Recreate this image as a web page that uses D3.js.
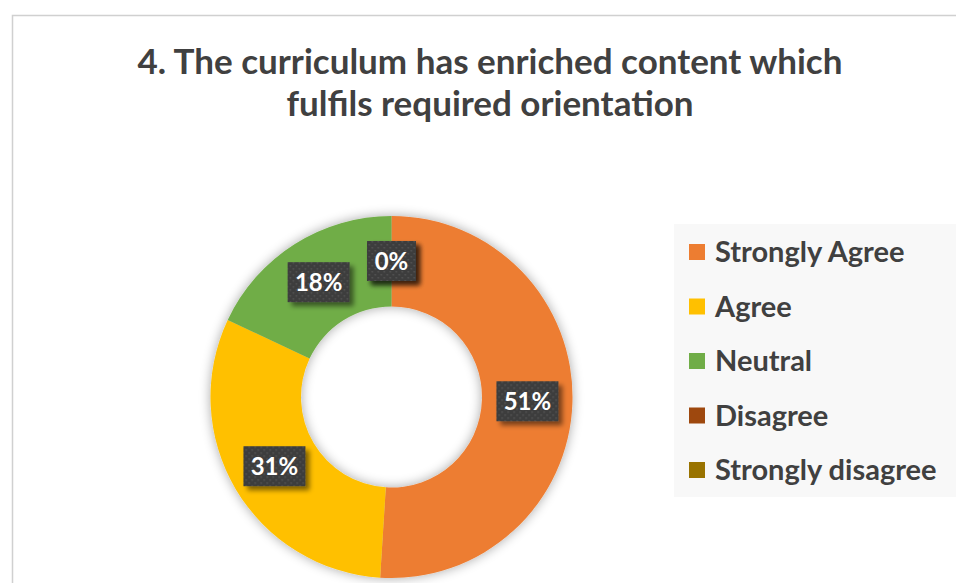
<!DOCTYPE html>
<html>
<head>
<meta charset="utf-8">
<script src="https://cdn.jsdelivr.net/npm/d3@7"></script>
<style>
  html, body { margin: 0; padding: 0; background: #fff; }
  svg { display: block; }
</style>
</head>
<body>
<svg id="chart" width="956" height="583"></svg>
<script>
const categories = ["Strongly Agree", "Agree", "Neutral", "Disagree", "Strongly disagree"];
const values = [51, 31, 18, 0, 0];
const colors = ["#ED7D31", "#FFC000", "#70AD47", "#9E480E", "#997300"];
const titleLines = ["4. The curriculum has enriched content which", "fulfils required orientation"];

const svg = d3.select("#chart");
const W = 956, H = 583;
const font = "'Lato', 'Open Sans', sans-serif";

const defs = svg.append("defs");
const pat = defs.append("pattern").attr("id", "dots").attr("width", 6).attr("height", 6)
  .attr("patternUnits", "userSpaceOnUse");
pat.append("rect").attr("width", 6).attr("height", 6).attr("fill", "#3d3d3d");
pat.append("rect").attr("x", 1).attr("y", 1).attr("width", 1.5).attr("height", 1.5).attr("fill", "#555");
pat.append("rect").attr("x", 4).attr("y", 4).attr("width", 1.5).attr("height", 1.5).attr("fill", "#555");

const glow = defs.append("filter").attr("id", "glow").attr("x", "-20%").attr("y", "-20%").attr("width", "140%").attr("height", "140%");
glow.append("feGaussianBlur").attr("in", "SourceAlpha").attr("stdDeviation", 6).attr("result", "b");
glow.append("feComponentTransfer").attr("in", "b").attr("result", "b2")
  .append("feFuncA").attr("type", "linear").attr("slope", 0.35);
const gm = glow.append("feMerge");
gm.append("feMergeNode").attr("in", "b2");
gm.append("feMergeNode").attr("in", "SourceGraphic");

const shadow = defs.append("filter").attr("id", "shadow").attr("x", "-30%").attr("y", "-30%").attr("width", "160%").attr("height", "160%");
shadow.append("feGaussianBlur").attr("in", "SourceAlpha").attr("stdDeviation", 2.5).attr("result", "b");
shadow.append("feOffset").attr("in", "b").attr("dx", 4).attr("dy", 4).attr("result", "o");
shadow.append("feComponentTransfer").attr("in", "o").attr("result", "o2")
  .append("feFuncA").attr("type", "linear").attr("slope", 0.5);
const sm = shadow.append("feMerge");
sm.append("feMergeNode").attr("in", "o2");
sm.append("feMergeNode").attr("in", "SourceGraphic");

// chart border
svg.append("rect").attr("x", 12.5).attr("y", 15.5).attr("width", W + 20).attr("height", H + 20)
  .attr("fill", "#fff").attr("stroke", "#d0d0d0").attr("stroke-width", 1.5);

// title
svg.append("g").selectAll("text").data(titleLines).join("text")
  .attr("x", 490).attr("y", (d, i) => 74 + i * 42)
  .attr("text-anchor", "middle")
  .attr("font-family", font).attr("font-weight", "bold").attr("font-size", 35)
  .attr("fill", "#404040").text(d => d);

// donut
const cx = 391.5, cy = 397, rOuter = 181, rInner = 90.5;
const data = categories.map((c, i) => ({ c, v: values[i], col: colors[i] }));
const pie = d3.pie().value(d => d.v).sort(null);
const arcs = pie(data);
const arc = d3.arc().innerRadius(rInner).outerRadius(rOuter);
const labelArc = d3.arc().innerRadius(136).outerRadius(136);

const g = svg.append("g").attr("transform", `translate(${cx},${cy})`);
g.append("g").attr("filter", "url(#glow)").selectAll("path").data(arcs).join("path")
  .attr("d", arc).attr("fill", d => d.data.col);

const lg = g.append("g").selectAll("g").data(arcs).join("g")
  .attr("transform", d => `translate(${labelArc.centroid(d)})`);
lg.append("rect")
  .attr("x", d => d.data.v >= 10 ? -31 : -24.5).attr("y", -20)
  .attr("width", d => d.data.v >= 10 ? 62 : 49).attr("height", 40)
  .attr("fill", "url(#dots)").attr("filter", "url(#shadow)");
lg.append("text").attr("text-anchor", "middle").attr("dy", "0.36em")
  .attr("font-family", font).attr("font-weight", "bold").attr("font-size", 24)
  .attr("fill", "#fff").text(d => d3.format(".0%")(d.data.v / d3.sum(values)));

// legend
const legX = 674, legY = 224;
svg.append("rect").attr("x", legX).attr("y", legY).attr("width", W - legX).attr("height", 273)
  .attr("fill", "#f8f8f8");
const yL = d3.scalePoint().domain(categories).range([252, 470]);
const li = svg.append("g").selectAll("g").data(data).join("g")
  .attr("transform", d => `translate(689,${yL(d.c)})`);
li.append("rect").attr("x", 0).attr("y", -8).attr("width", 16).attr("height", 16).attr("fill", d => d.col);
li.append("text").attr("x", 26).attr("dy", "0.36em")
  .attr("font-family", font).attr("font-weight", "bold").attr("font-size", 29)
  .attr("fill", "#404040").text(d => d.c);
</script>
</body>
</html>
